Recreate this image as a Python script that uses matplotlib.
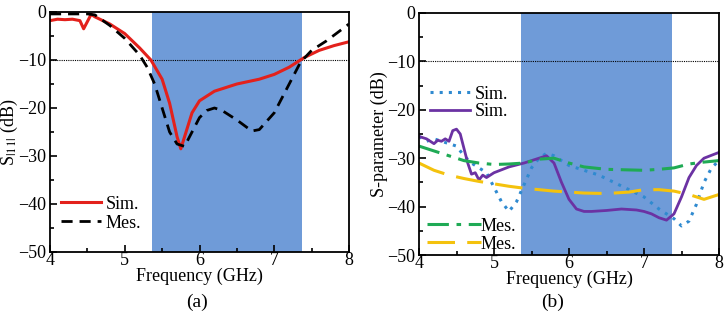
import numpy as np
import matplotlib
matplotlib.use("Agg")
import matplotlib.pyplot as plt
from matplotlib.ticker import MultipleLocator

plt.rcParams['font.family'] = ['Liberation Serif', 'DejaVu Serif']
plt.rcParams['mathtext.fontset'] = 'stix'

# ---- data (a) ----
f_sim_a = [4.0, 4.1, 4.2, 4.3, 4.4, 4.45, 4.5, 4.55, 4.6, 4.8, 5.0, 5.2, 5.35, 5.5, 5.6, 5.7, 5.75,
           5.8, 5.9, 6.0, 6.2, 6.5, 6.8, 7.0, 7.2, 7.4, 7.6, 7.8, 8.0]
s11_sim = [-1.8, -1.5, -1.6, -1.5, -1.8, -3.5, -2.0, -0.5, -1.0, -2.5, -4.5, -7.5, -10, -14, -19, -26, -28.5,
           -26, -21, -18.5, -16.5, -15, -14, -13, -11.5, -9.5, -8, -7, -6.2]
f_mes_a = [4.0, 4.5, 4.6, 4.8, 5.0, 5.2, 5.3, 5.4, 5.5, 5.6, 5.7, 5.8, 5.9, 6.0, 6.1, 6.2, 6.3, 6.5,
           6.7, 6.8, 7.0, 7.2, 7.35, 7.5, 7.7, 8.0]
s11_mes = [-0.4, -0.4, -0.6, -2.8, -5.5, -9, -11.5, -15, -20, -25, -27.5, -28, -25, -22, -20.5, -20, -20.5, -22.5,
           -24.8, -24.5, -21, -15, -10.5, -8, -6, -2.5]

# ---- data (b) ----
f_purple = [4.0, 4.1, 4.2, 4.25, 4.3, 4.35, 4.4, 4.45, 4.5, 4.55, 4.6, 4.65, 4.7, 4.75, 4.8, 4.85, 4.9,
            5.0, 5.2, 5.4, 5.6, 5.7, 5.8, 5.9, 6.0, 6.1, 6.2, 6.3, 6.5, 6.7, 6.9, 7.0, 7.1, 7.2, 7.3,
            7.4, 7.5, 7.6, 7.7, 7.8, 8.0]
s_purple = [-25.5, -26, -27, -26.3, -26.5, -26, -26.5, -24.3, -24.0, -25, -28, -31, -33.3, -33, -34.5, -33.5, -34,
            -33, -31.8, -31, -30, -29.5, -31, -35, -38.5, -40.5, -41, -41, -40.8, -40.5, -40.7, -41, -41.5, -42.3, -42.8,
            -41.5, -38, -34, -31.5, -30, -28.8]
f_dot = [4.0, 4.1, 4.2, 4.3, 4.4, 4.5, 4.6, 4.7, 4.8, 4.9, 5.0, 5.1, 5.2, 5.3, 5.4, 5.5, 5.6, 5.7, 5.8,
         5.9, 6.0, 6.2, 6.4, 6.6, 6.8, 7.0, 7.2, 7.3, 7.4, 7.5, 7.6, 7.7, 7.8, 7.9, 8.0]
s_dot = [-25.5, -26.5, -26, -26.5, -27, -27.5, -29.5, -31, -32, -33, -36, -39, -41, -39, -35.5, -32, -30, -29, -29.5,
         -30.5, -31.5, -32.5, -33.5, -35, -36.5, -38, -40.5, -41.5, -42.5, -44, -43, -39.5, -35, -32, -30.5]
f_green = [4.0, 4.2, 4.4, 4.6, 4.8, 5.0, 5.2, 5.4, 5.6, 5.8, 6.0, 6.2, 6.5, 7.0, 7.2, 7.4, 7.6, 7.8, 8.0]
s_green = [-27.5, -28.5, -29.5, -30.5, -31, -31.3, -31.2, -31, -30.2, -30, -31, -31.8, -32.3, -32.5, -32.3, -32,
           -31.2, -30.8, -30.5]
f_yellow = [4.0, 4.2, 4.4, 4.6, 4.8, 5.0, 5.2, 5.4, 5.6, 5.8, 6.0, 6.2, 6.5, 6.8, 7.0, 7.2, 7.4, 7.6, 7.8, 7.9, 8.0]
s_yellow = [-31, -32.5, -33.5, -34.2, -34.8, -35.3, -35.8, -36.2, -36.5, -36.8, -37, -37.2, -37.3, -37, -36.5, -36.5,
            -36.8, -37.5, -38.5, -38, -37.5]

band = (5.36, 7.37)
band_color = '#6f9bd8'


def style_axes(ax):
    ax.set_xlim(4, 8)
    ax.set_ylim(-50, 0)
    ax.axvspan(band[0], band[1], color=band_color, lw=0, zorder=0)
    ax.axhline(-10, color='black', lw=0.8, ls=(0, (1, 1)), zorder=1)
    ax.xaxis.set_major_locator(MultipleLocator(1))
    ax.xaxis.set_minor_locator(MultipleLocator(0.5))
    ax.yaxis.set_major_locator(MultipleLocator(10))
    ax.yaxis.set_minor_locator(MultipleLocator(5))
    ax.tick_params(which='both', direction='in', labelsize=13, width=1.2)
    ax.tick_params(axis='x', pad=0)
    ax.tick_params(axis='y', pad=3)
    ax.tick_params(which='major', length=5)
    ax.tick_params(which='minor', length=3)
    for s in ax.spines.values():
        s.set_linewidth(1.3)
    ax.set_xlabel('Frequency (GHz)', fontsize=13, labelpad=-1)


fig = plt.figure(figsize=(7.24, 3.18), dpi=100)

# (a)
ax1 = fig.add_axes([50 / 724, 66 / 318, 299 / 724, 240 / 318])
style_axes(ax1)
l1, = ax1.plot(f_sim_a, s11_sim, color='#e3211c', lw=2.2, label='Sim.')
l2, = ax1.plot(f_mes_a, s11_mes, color='black', lw=2.0, ls=(0, (4, 2.5)), label='Mes.')
ax1.set_ylabel('S$_{|11|}$ (dB)', fontsize=13, labelpad=-2)
ax1.legend(handles=[l1, l2], loc='lower left', bbox_to_anchor=(0.0, 0.04), frameon=False,
           fontsize=13, handlelength=2.2, handletextpad=0.3, labelspacing=0.1, borderaxespad=0.2)
fig.text(197 / 724, 1 - 302 / 318, '(a)', ha='center', va='center', fontsize=14)

# (b)
ax2 = fig.add_axes([419 / 724, 63 / 318, 300 / 724, 242 / 318])
style_axes(ax2)
d1, = ax2.plot(f_dot, s_dot, color='#2f8ad0', lw=2.2, ls=(0, (1, 2)), label='Sim.')
d2, = ax2.plot(f_purple, s_purple, color='#6b32a3', lw=2.0, label='Sim.')
d3, = ax2.plot(f_green, s_green, color='#1faa55', lw=2.2, ls=(0, (7, 2.5, 1.5, 2.5)), label='Mes.')
d4, = ax2.plot(f_yellow, s_yellow, color='#f4c20d', lw=2.2, ls=(0, (9, 4)), label='Mes.')
ax2.set_ylabel('S-parameter (dB)', fontsize=13, labelpad=-1)
leg1 = ax2.legend(handles=[d1, d2], loc='upper left', bbox_to_anchor=(0.0, 0.745), frameon=False,
                  fontsize=13, handlelength=2.2, handletextpad=0.3, labelspacing=0.05, borderaxespad=0.2)
ax2.add_artist(leg1)
ax2.legend(handles=[d3, d4], loc='lower left', bbox_to_anchor=(-0.01, -0.035), frameon=False,
           fontsize=13, handlelength=3.0, handletextpad=0.0, labelspacing=0.05, borderaxespad=0.2)
fig.text(553 / 724, 1 - 302 / 318, '(b)', ha='center', va='center', fontsize=14)

fig.savefig('out.png', dpi=100)
